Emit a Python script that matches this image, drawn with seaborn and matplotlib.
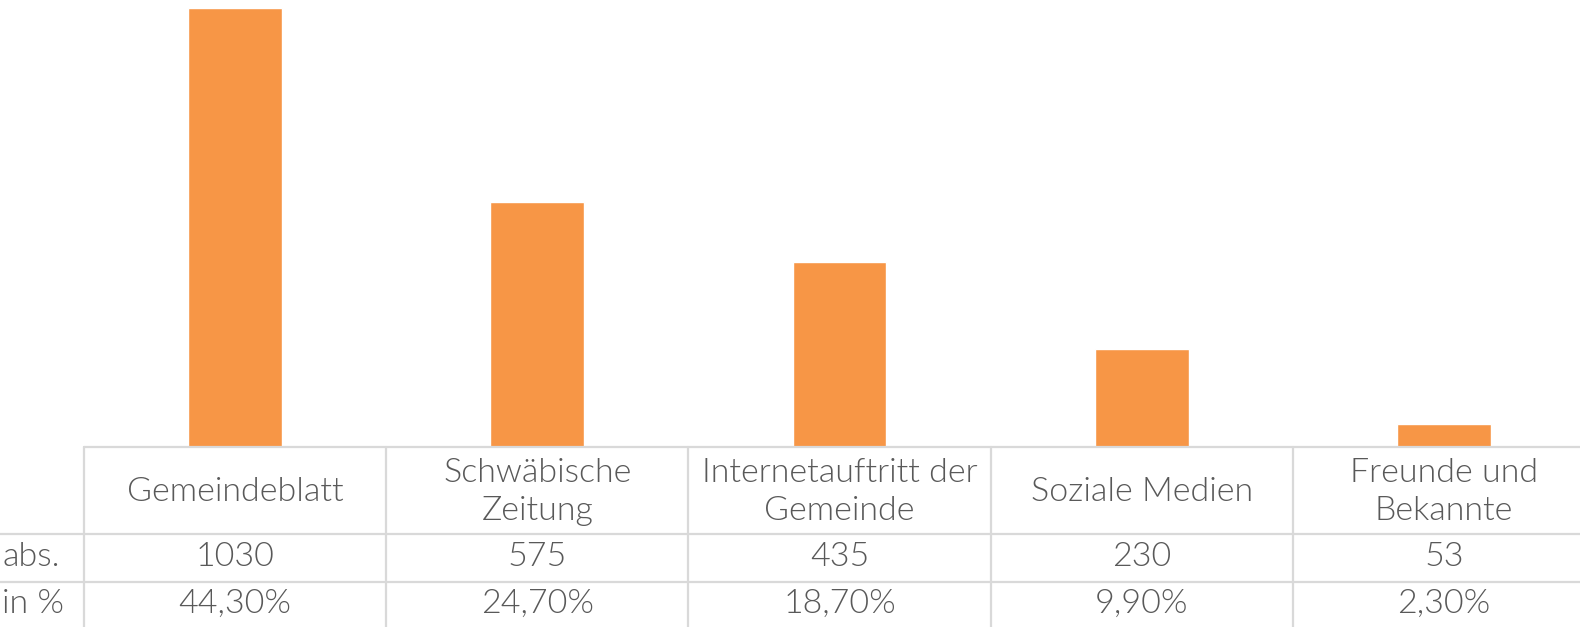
import numpy as np
import pandas as pd
import matplotlib
matplotlib.use("Agg")
import matplotlib.pyplot as plt
import matplotlib.transforms as mtransforms
import seaborn as sns

categories = ["Gemeindeblatt", "Schwäbische\nZeitung", "Internetauftritt der\nGemeinde",
              "Soziale Medien", "Freunde und\nBekannte"]
abs_values = [1030, 575, 435, 230, 53]
pct_labels = ["44,30%", "24,70%", "18,70%", "9,90%", "2,30%"]
row_labels = ["abs.", "in %"]

df = pd.DataFrame({"quelle": categories, "anzahl": abs_values})

sns.set_style("white")
plt.rcParams["font.family"] = ["Lato", "DejaVu Sans"]

W, H = 1580, 627
fig = plt.figure(figsize=(W / 100, H / 100), dpi=100)
ax_left, ax_right, ax_top, ax_bottom = 84, 1595, 0, 447
ax = fig.add_axes([ax_left / W, 1 - ax_bottom / H, (ax_right - ax_left) / W, (ax_bottom - ax_top) / H])

sns.barplot(data=df, x="quelle", y="anzahl", color="#F79646", saturation=1, width=0.31, ax=ax)
ax.set_xlim(-0.5, len(categories) - 0.5)
ax.set_ylim(0, 1049)
ax.set_xticks([])
ax.set_yticks([])
ax.set_xlabel("")
ax.set_ylabel("")
for s in ax.spines.values():
    s.set_visible(False)

# data table below the chart
grid = "#D9D9D9"
txt = "#595959"
fs = 24.5
wt = 300
ph = ax_bottom - ax_top
y_head = -(534 - 447) / ph
y_abs = -(582 - 447) / ph
y_end = -(H - 447 + 5) / ph
tr = mtransforms.blended_transform_factory(ax.transData, ax.transAxes)
lw = 1.6

# horizontal lines
ax.plot([-0.5, 4.5], [0, 0], transform=tr, color=grid, lw=lw, clip_on=False)
for yy in (y_head, y_abs):
    fig.add_artist(plt.Line2D([0, ax_right / W], [1 - (447 - yy * ph) / H] * 2,
                              color=grid, lw=lw))
# vertical lines
for k in range(len(categories) + 1):
    ax.plot([k - 0.5, k - 0.5], [0, y_end], transform=tr, color=grid, lw=lw, clip_on=False)

for i, cat in enumerate(categories):
    ax.text(i, -(492 - 447) / ph, cat, transform=tr, ha="center", va="center", fontsize=fs,
            fontweight=wt, color=txt, linespacing=1.3, clip_on=False)
    ax.text(i, -(557 - 447) / ph, str(abs_values[i]), transform=tr, ha="center", va="center",
            fontsize=fs, fontweight=wt, color=txt, clip_on=False)
    ax.text(i, -(604 - 447) / ph, pct_labels[i], transform=tr, ha="center", va="center",
            fontsize=fs, fontweight=wt, color=txt, clip_on=False)

fig.text(2 / W, 1 - 557 / H, row_labels[0], ha="left", va="center", fontsize=fs,
         fontweight=wt, color=txt)
fig.text(2 / W, 1 - 604 / H, row_labels[1], ha="left", va="center", fontsize=fs,
         fontweight=wt, color=txt)

fig.savefig("out.png", dpi=100, facecolor="white")
